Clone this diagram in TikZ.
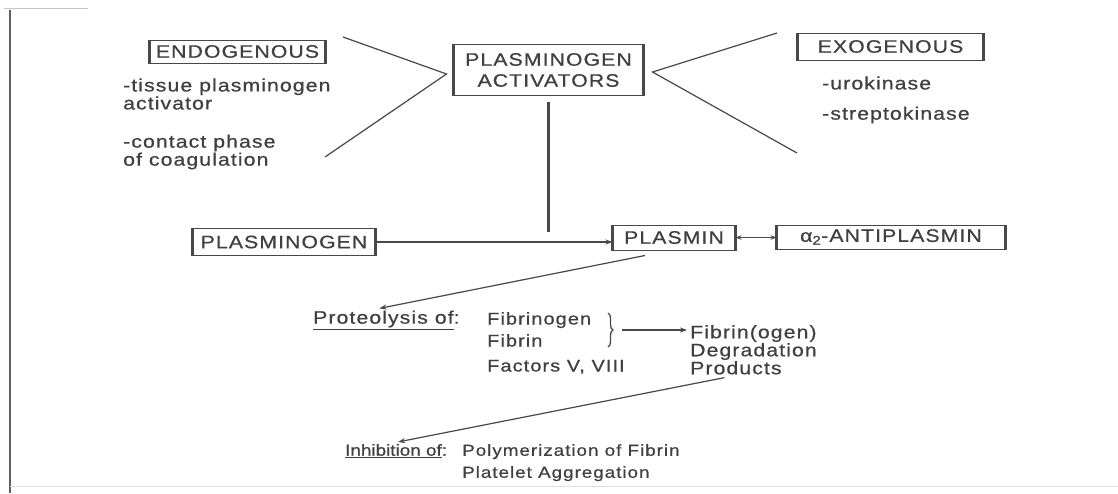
\documentclass[tikz,border=0pt]{standalone}
\usepackage{fontspec}
\setmainfont{Liberation Sans}[FakeStretch=1.18, LetterSpace=6, FakeBold=0.6]
\usetikzlibrary{arrows.meta,decorations.pathreplacing,calc}
\definecolor{ink}{HTML}{404040}
\definecolor{edgec}{HTML}{484848}
\begin{document}
\begin{tikzpicture}[x=1pt,y=-1pt,
  every node/.style={text=ink},
  big/.style={font=\fontsize{18}{21}\selectfont},
  txt/.style={font=\fontsize{18}{18}\selectfont, inner sep=0pt, align=left},
  small/.style={font=\fontsize{16}{22}\selectfont, inner sep=0pt, align=left},
  boxed/.style={draw=edgec, line width=1pt, inner sep=0pt, big,
    append after command={(\tikzlastnode.north west) edge[draw=edgec,line width=2.6pt] (\tikzlastnode.south west)
                          (\tikzlastnode.north east) edge[draw=edgec,line width=2.6pt] (\tikzlastnode.south east)}},
  conn/.style={draw=edgec, line width=1.2pt},
  arr/.style={conn, -{Stealth[length=7pt,width=5pt]}},
  dblarr/.style={conn, {Stealth[length=6pt,width=4.5pt]}-{Stealth[length=6pt,width=4.5pt]}},
]
\useasboundingbox (0,0) rectangle (1118,493);
\fill[white] (0,0) rectangle (1118,493);
% page border of the scan
\draw[line width=2.5pt, draw=gray!75!black] (10,10) -- (10,493);
\draw[line width=1pt, draw=gray!45] (4,8) -- (88,8);
\draw[line width=0.8pt, draw=gray!25] (10,486) -- (1118,486);

% boxes
\node[boxed, minimum width=175pt, minimum height=23pt] (endo) at (237.5,51.5) {ENDOGENOUS};
\node[boxed, minimum width=189pt, minimum height=51pt, align=center] (pa) at (548.5,70) {PLASMINOGEN\\ACTIVATORS};
\node[boxed, minimum width=185pt, minimum height=27pt] (exo) at (890.5,46.5) {EXOGENOUS};
\node[boxed, minimum width=182pt, minimum height=27pt] (pg) at (284,242) {PLASMINOGEN};
\node[boxed, minimum width=122pt, minimum height=25pt] (pl) at (674,237.5) {PLASMIN};
\node[boxed, minimum width=228pt, minimum height=24pt] (ap) at (891,237) {α\textsubscript{2}-ANTIPLASMIN};

% texts
\node[txt, anchor=west] (tpa) at (123,94) {-tissue plasminogen\\activator};
\node[txt, anchor=west] (cp) at (123,152) {-contact phase\\of coagulation};
\node[txt, anchor=west] (uro) at (822,83) {-urokinase};
\node[txt, anchor=west] (strep) at (822,115) {-streptokinase};
\node[txt, anchor=west] (prot) at (313,320) {\underline{Proteolysis of}:};
\node[txt, anchor=north west, font=\fontsize{17}{22}\selectfont] (subs) at (487,312) {Fibrinogen\\Fibrin\\[3pt]Factors V, VIII};
\node[txt, anchor=north west] (fdp) at (690,325) {Fibrin(ogen)\\Degradation\\Products};
\node[small, anchor=west] (inh) at (345,451) {\addfontfeature{LetterSpace=0}\underline{Inhibition of}:};
\node[small, anchor=north west] (eff) at (462,444) {Polymerization of Fibrin\\Platelet Aggregation};

% connectors
\coordinate (e1) at (343,37);
\coordinate (e2) at (325,157);
\coordinate (x1) at (777,33);
\coordinate (x2) at (797,153);
\draw[conn] (e1) -- ([xshift=-7pt,yshift=-4pt]pa.west) -- (e2);
\draw[conn] (x1) -- ([xshift=9pt,yshift=-2pt]pa.east) -- (x2);
\draw[draw=edgec, line width=2.4pt, shorten <=6pt] (pa.south) -- ([yshift=10pt]pa.south |- pg.east);
\draw[arr] (pg.east) -- (pg.east -| pl.west);
\draw[dblarr] (pl.east) -- (pl.east -| ap.west);
\draw[arr] ([xshift=-29pt,yshift=-5pt]pl.south) -- ([xshift=-7pt,yshift=2pt]prot.north);
\draw[decorate, decoration={brace, amplitude=5pt}, conn, line width=1.3pt] (608,313) -- (608,347);
\coordinate (bt) at (622,330);
\draw[arr, shorten >=3pt] (bt) -- (bt -| fdp.west);
\draw[arr] ([xshift=-29pt,yshift=-3pt]fdp.south) -- ([xshift=2pt,yshift=2pt]inh.north);
\end{tikzpicture}
\end{document}
